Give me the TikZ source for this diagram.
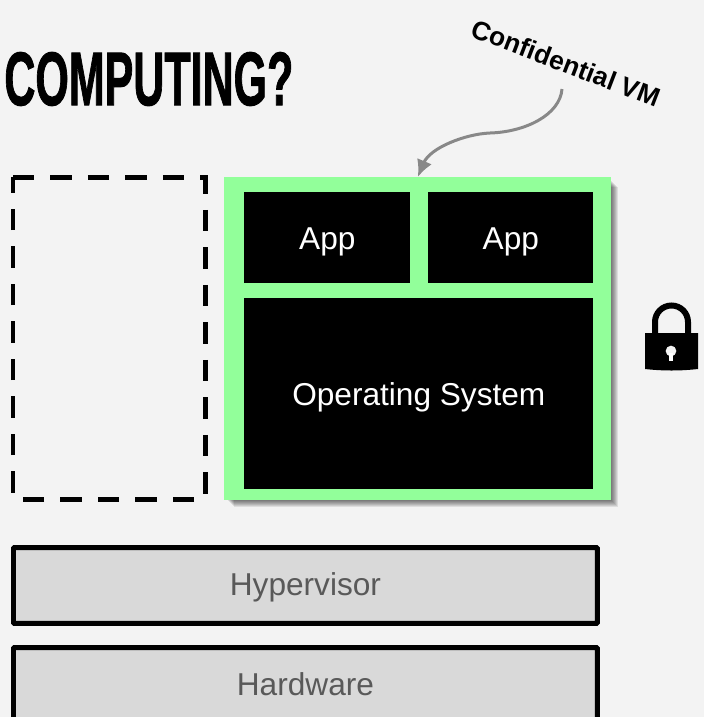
\documentclass[tikz,border=0pt]{standalone}
\usepackage{fontspec}
\usepackage{graphicx}
\usetikzlibrary{arrows.meta}
\setmainfont{Liberation Sans}
\newfontfamily\titlefont[FakeBold=1.5]{Liberation Sans Bold}
\definecolor{slidebg}{HTML}{F3F3F3}
\definecolor{vmgreen}{HTML}{92FF9A}
\definecolor{layergray}{HTML}{D9D9D9}
\definecolor{layertext}{HTML}{595959}
\definecolor{arrowgray}{HTML}{888888}
\tikzset{
  guest/.style={fill=black,text=white,font=\fontsize{18}{20}\selectfont,inner sep=0pt,text height=0.5cm,text depth=0.04cm},
  layer/.style={draw=black,line width=0.1cm,fill=layergray,text=layertext,rounded corners=0.02cm,
    minimum width=11.68cm,minimum height=1.52cm,font=\fontsize{18}{20}\selectfont,inner sep=0pt,text height=0.5cm,text depth=0.08cm},
}
\begin{document}
\begin{tikzpicture}[x=0.02cm,y=-0.02cm]

  \useasboundingbox[fill=slidebg] (0,0) rectangle (704,717);

  \node[anchor=west,inner sep=0pt] (title) at (4,79) {\resizebox{5.78cm}{1.06cm}{\titlefont COMPUTING?}};
  \node[rotate=-21,font=\fontsize{15}{17}\selectfont\bfseries] (vmlabel) at (566,63) {Confidential VM};

  % empty slot
  \draw[line width=0.1cm,dash pattern=on 0.43cm off 0.32cm] (13,177) -- (205,177) -- (205,499) -- (13,499) -- cycle;

  % soft shadow of the confidential vm
  \foreach \s in {1,...,8}
    \fill[black,opacity=0.09] (224+\s+2,177+\s+2) rectangle (610+\s,499+\s);

  \node[fill=vmgreen,minimum width=7.74cm,minimum height=6.46cm,anchor=north west,inner sep=0pt] (vm) at (224,177) {};

  \node[guest,minimum width=3.32cm,minimum height=1.82cm,anchor=north west] (appa) at (244,192) {App};
  \node[guest,minimum width=3.3cm,minimum height=1.82cm,anchor=north west] (appb) at (428,192) {App};
  \node[guest,minimum width=6.98cm,minimum height=3.82cm,anchor=north west] (os) at (244,298) {Operating System};

  \node[layer,anchor=north west] (hyp) at (11,545) {Hypervisor};
  \node[layer,anchor=north west] (hw) at (11,645) {Hardware};

  \coordinate (vmtail) at (562,89);
  \draw[arrowgray,line width=0.06cm,-{Latex[length=0.34cm,width=0.32cm]}] (vmtail) .. controls (560,115) and (525,132) .. (490,133) .. controls (465,134) and (430,148) .. (vm.north);

  % lock
  \draw[line width=0.12cm] (655,334) -- (655,322) arc [start angle=180, end angle=360, radius=16.5] -- (688,334);
  \fill[even odd rule] (645,333) -- (698,333) -- (698,369) .. controls (680,371) and (663,371) .. (645,369) -- cycle
    (671,351) circle (5.5);
  \fill[white] (669,353) rectangle (673,361);

\end{tikzpicture}
\end{document}
